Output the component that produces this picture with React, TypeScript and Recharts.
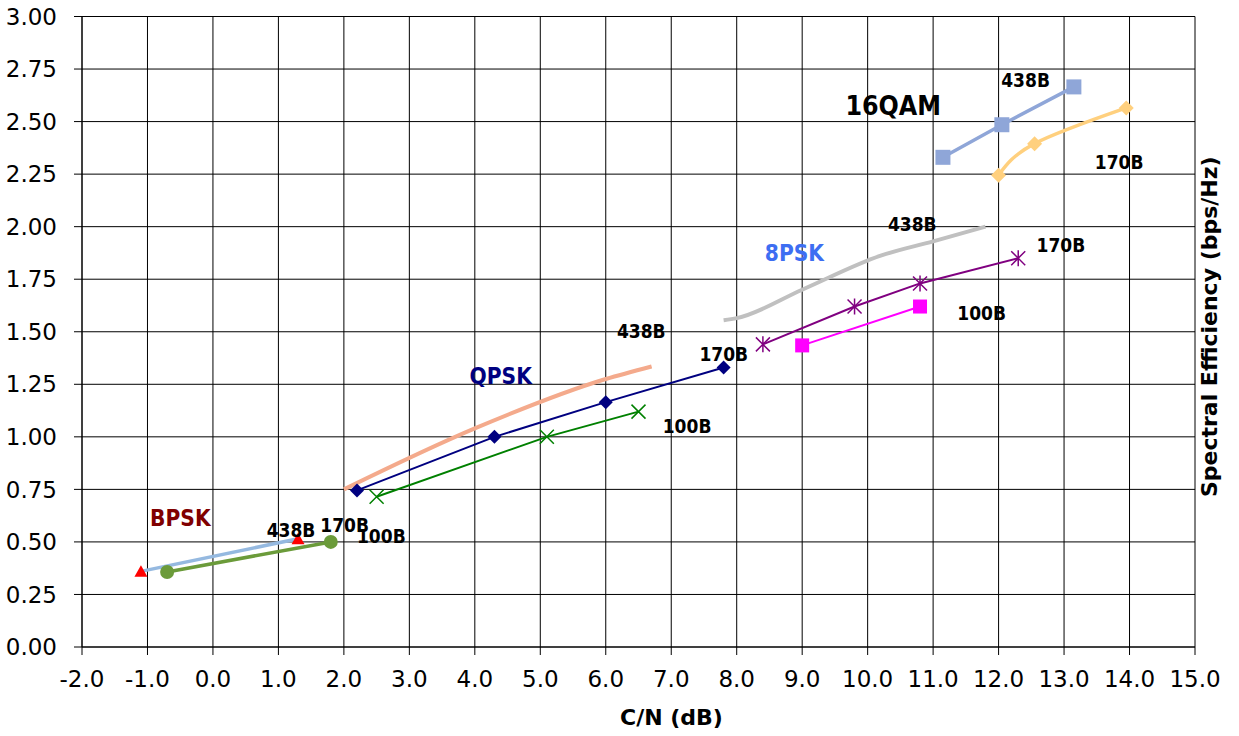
import React from 'react';
import {
  ComposedChart,
  Line,
  XAxis,
  YAxis,
  CartesianGrid,
  ReferenceDot,
} from 'recharts';

// ===== Data (C/N in dB vs spectral efficiency in bps/Hz) =====
const bpsk438 = [
  { x: -1.1, y: 0.36 },
  { x: 1.3, y: 0.515 },
];
const bpsk170 = [
  { x: -0.7, y: 0.357 },
  { x: 1.8, y: 0.5 },
];

const qpsk438 = [
  { x: 2.0, y: 0.75 },
  { x: 4.0, y: 1.04 },
  { x: 6.0, y: 1.275 },
  { x: 6.7, y: 1.335 },
];
const qpsk170 = [
  { x: 2.2, y: 0.745 },
  { x: 4.3, y: 1.0 },
  { x: 6.0, y: 1.165 },
  { x: 7.8, y: 1.33 },
];
const qpsk100 = [
  { x: 2.5, y: 0.715 },
  { x: 5.1, y: 1.0 },
  { x: 6.5, y: 1.12 },
];

const psk8_438 = [
  { x: 7.8, y: 1.555 },
  { x: 8.0, y: 1.565 },
  { x: 9.0, y: 1.7 },
  { x: 10.2, y: 1.862 },
  { x: 11.0, y: 1.93 },
  { x: 11.8, y: 2.0 },
];
const psk8_170 = [
  { x: 8.4, y: 1.44 },
  { x: 9.8, y: 1.62 },
  { x: 10.8, y: 1.73 },
  { x: 12.3, y: 1.85 },
];
const psk8_100 = [
  { x: 9.0, y: 1.435 },
  { x: 10.8, y: 1.62 },
];

const qam16_438 = [
  { x: 11.15, y: 2.33 },
  { x: 12.05, y: 2.485 },
  { x: 13.15, y: 2.665 },
];
const qam16_170 = [
  { x: 12.0, y: 2.245 },
  { x: 12.55, y: 2.395 },
  { x: 13.95, y: 2.565 },
];

const xTicks = [-2, -1, 0, 1, 2, 3, 4, 5, 6, 7, 8, 9, 10, 11, 12, 13, 14, 15];
const yTicks = [0, 0.25, 0.5, 0.75, 1, 1.25, 1.5, 1.75, 2, 2.25, 2.5, 2.75, 3];

// labels placed in data units (left edge, baseline)
const notes = [
  { text: 'BPSK', x: -0.96, y: 0.576, color: '#800000', size: 22.5 },
  { text: '438B', x: 0.82, y: 0.522, color: '#000', size: 19 },
  { text: '170B', x: 1.64, y: 0.549, color: '#000', size: 19 },
  { text: '100B', x: 2.2, y: 0.494, color: '#000', size: 19 },
  { text: 'QPSK', x: 3.92, y: 1.252, color: '#000080', size: 22.5 },
  { text: '438B', x: 6.17, y: 1.47, color: '#000', size: 19 },
  { text: '170B', x: 7.43, y: 1.359, color: '#000', size: 19 },
  { text: '100B', x: 6.87, y: 1.02, color: '#000', size: 19 },
  { text: '8PSK', x: 8.43, y: 1.835, color: '#3D6EF2', size: 22.5 },
  { text: '438B', x: 10.31, y: 1.978, color: '#000', size: 19 },
  { text: '170B', x: 12.58, y: 1.88, color: '#000', size: 19 },
  { text: '100B', x: 11.37, y: 1.554, color: '#000', size: 19 },
  { text: '16QAM', x: 9.66, y: 2.529, color: '#000', size: 26.5 },
  { text: '438B', x: 12.04, y: 2.665, color: '#000', size: 19 },
  { text: '170B', x: 13.47, y: 2.275, color: '#000', size: 19 },
];

const FONT = '"DejaVu Sans Condensed", "DejaVu Sans", sans-serif';
const WIDE = '"DejaVu Sans", sans-serif';

// ===== Markers =====
const Triangle = ({ cx, cy, fill }: any) => (
  <path d={`M${cx - 6.5},${cy + 5.5}L${cx},${cy - 6}L${cx + 6.5},${cy + 5.5}Z`} fill={fill} />
);
const Circle = ({ cx, cy, fill }: any) => <circle cx={cx} cy={cy} r={7} fill={fill} />;
const Diamond = ({ cx, cy, fill, s }: any) => (
  <path
    d={`M${cx},${cy - s}L${cx + s},${cy}L${cx},${cy + s}L${cx - s},${cy}Z`}
    fill={fill}
  />
);
const Square = ({ cx, cy, fill, s }: any) => (
  <rect x={cx - s} y={cy - s} width={s * 2} height={s * 2} fill={fill} />
);
const Cross = ({ cx, cy, stroke }: any) => (
  <path
    d={`M${cx - 7},${cy - 7}L${cx + 7},${cy + 7}M${cx - 7},${cy + 7}L${cx + 7},${cy - 7}`}
    stroke={stroke}
    strokeWidth={1.5}
  />
);
const Star = ({ cx, cy, stroke }: any) => (
  <path
    d={`M${cx - 7},${cy - 7}L${cx + 7},${cy + 7}M${cx - 7},${cy + 7}L${cx + 7},${cy - 7}M${cx},${cy - 8}L${cx},${cy + 8}`}
    stroke={stroke}
    strokeWidth={1.5}
  />
);

const dot = (Comp: any, extra: any) => (p: any) =>
  <Comp key={p.index} cx={p.cx} cy={p.cy} {...extra} />;

const Note = ({ cx, cy, text, color, size }: any) => (
  <text x={cx} y={cy} fill={color} fontFamily={FONT} fontWeight="bold" fontSize={size}>
    {text}
  </text>
);

export default function App() {
  return (
    <div style={{ position: 'absolute', left: 0, top: 0, background: '#fff' }}>
      <ComposedChart
        width={1239}
        height={736}
        margin={{ top: 16.5, right: 0, bottom: 0, left: 0 }}
        style={{ fontFamily: WIDE }}
      >
        <CartesianGrid stroke="#000" strokeWidth={1} />
        <XAxis
          type="number"
          dataKey="x"
          domain={[-2, 15]}
          ticks={xTicks}
          allowDataOverflow
          height={89}
          tickSize={8}
          tickMargin={16}
          stroke="#000"
          tick={{ fill: '#000', fontSize: 23, fontFamily: WIDE }}
          tickFormatter={(v: number) => v.toFixed(1)}
          label={{
            value: 'C/N (dB)',
            position: 'insideBottom',
            offset: 11,
            dx: 33,
            fill: '#000',
            fontSize: 22,
            fontWeight: 'bold',
            fontFamily: WIDE,
          }}
        />
        <YAxis
          type="number"
          domain={[0, 3]}
          ticks={yTicks}
          width={82}
          tickSize={8}
          tickMargin={17}
          stroke="#000"
          tick={{ fill: '#000', fontSize: 23, fontFamily: WIDE }}
          tickFormatter={(v: number) => v.toFixed(2)}
        />
        <YAxis
          yAxisId="r"
          orientation="right"
          domain={[0, 3]}
          width={44}
          tick={false}
          tickLine={false}
          axisLine={false}
          label={{
            value: 'Spectral Efficiency (bps/Hz)',
            angle: -90,
            position: 'center',
            dx: -8,
            dy: -5,
            fill: '#000',
            fontSize: 22,
            fontWeight: 'bold',
            fontFamily: WIDE,
          }}
        />

        {/* BPSK */}
        <Line data={bpsk438} dataKey="y" type="linear" stroke="#95B9E0" strokeWidth={3.5}
          dot={dot(Triangle, { fill: '#FF0000' })} activeDot={false} isAnimationActive={false} />
        <Line data={bpsk170} dataKey="y" type="linear" stroke="#6B9B3A" strokeWidth={3.5}
          dot={dot(Circle, { fill: '#6B9B3A' })} activeDot={false} isAnimationActive={false} />

        {/* QPSK */}
        <Line data={qpsk438} dataKey="y" type="monotone" stroke="#F4AA8C" strokeWidth={4}
          dot={false} activeDot={false} isAnimationActive={false} />
        <Line data={qpsk170} dataKey="y" type="linear" stroke="#000080" strokeWidth={2}
          dot={dot(Diamond, { fill: '#000080', s: 7 })} activeDot={false} isAnimationActive={false} />
        <Line data={qpsk100} dataKey="y" type="linear" stroke="#008000" strokeWidth={2}
          dot={dot(Cross, { stroke: '#008000' })} activeDot={false} isAnimationActive={false} />

        {/* 8PSK */}
        <Line data={psk8_438} dataKey="y" type="monotone" stroke="#C0C0C0" strokeWidth={4}
          dot={false} activeDot={false} isAnimationActive={false} />
        <Line data={psk8_170} dataKey="y" type="linear" stroke="#800080" strokeWidth={2}
          dot={dot(Star, { stroke: '#800080' })} activeDot={false} isAnimationActive={false} />
        <Line data={psk8_100} dataKey="y" type="linear" stroke="#FF00FF" strokeWidth={2}
          dot={dot(Square, { fill: '#FF00FF', s: 7 })} activeDot={false} isAnimationActive={false} />

        {/* 16QAM */}
        <Line data={qam16_438} dataKey="y" type="linear" stroke="#8FA6D8" strokeWidth={3.5}
          dot={dot(Square, { fill: '#8FA6D8', s: 7.5 })} activeDot={false} isAnimationActive={false} />
        <Line data={qam16_170} dataKey="y" type="natural" stroke="#FFD07E" strokeWidth={3.5}
          dot={dot(Diamond, { fill: '#FFD07E', s: 7.5 })} activeDot={false} isAnimationActive={false} />

        {notes.map((n, i) => (
          <ReferenceDot
            key={i}
            x={n.x}
            y={n.y}
            r={0}
            ifOverflow="visible"
            shape={(p: any) => <Note cx={p.cx} cy={p.cy} text={n.text} color={n.color} size={n.size} />}
          />
        ))}
      </ComposedChart>
    </div>
  );
}
